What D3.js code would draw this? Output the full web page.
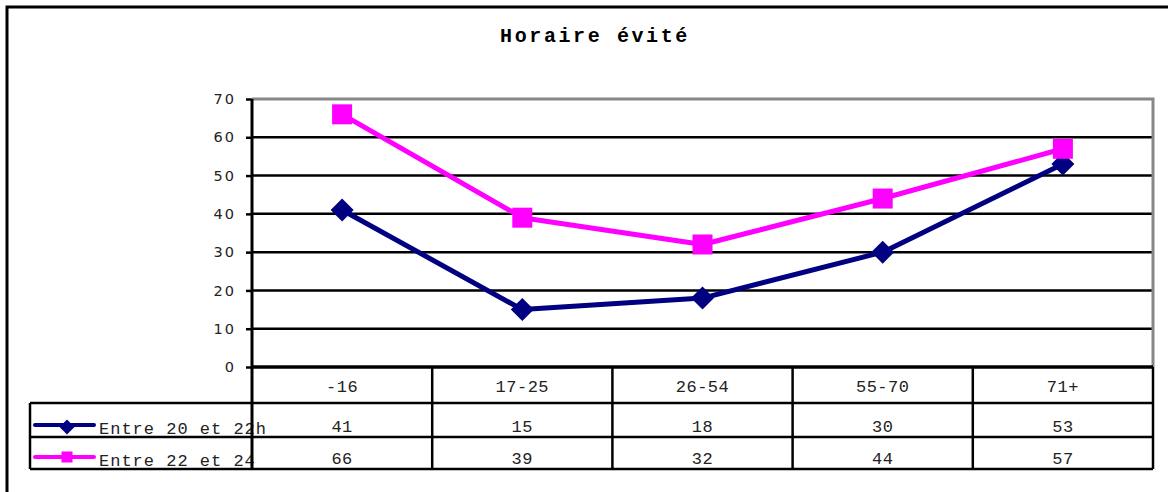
<!DOCTYPE html>
<html>
<head>
<meta charset="utf-8">
<script src="https://cdn.jsdelivr.net/npm/d3@7"></script>
<style>
  body { margin: 0; background: #fff; }
  svg { display: block; }
</style>
</head>
<body>
<div id="chart"></div>
<script>
const categories = ["-16", "17-25", "26-54", "55-70", "71+"];
const seriesNames = ["Entre 20 et 22h", "Entre 22 et 24"];
const seriesColors = ["#000080", "#ff00ff"];
const evening = [41, 15, 18, 30, 53];
const night = [66, 39, 32, 44, 57];
const yTicks = [0, 10, 20, 30, 40, 50, 60, 70];

const series = [
  { name: seriesNames[0], color: seriesColors[0], values: evening, marker: "diamond" },
  { name: seriesNames[1], color: seriesColors[1], values: night, marker: "square" }
];

const W = 1168, H = 492;
const plot = { left: 252, right: 1153, top: 99, bottom: 367 };
const rowH = [36, 34, 32]; // header, row 1, row 2
const legendLeft = 30;
const monoFont = "'Liberation Mono', 'Courier New', monospace";

const svg = d3.select("#chart").append("svg")
  .attr("width", W).attr("height", H);

// outer frame
svg.append("path")
  .attr("d", `M7,${H + 5} L7,7 L${W + 5},7`)
  .attr("fill", "none").attr("stroke", "#000").attr("stroke-width", 3);

svg.append("text")
  .attr("x", 595).attr("y", 42)
  .attr("text-anchor", "middle")
  .style("font-family", monoFont)
  .style("font-weight", "bold")
  .style("font-size", "20px")
  .style("letter-spacing", "2.6px")
  .text("Horaire évité");

const x = d3.scaleBand().domain(categories).range([plot.left, plot.right]).padding(0);
const y = d3.scaleLinear().domain([0, 70]).range([plot.bottom, plot.top]);
const cx = c => x(c) + x.bandwidth() / 2;

// gridlines
svg.append("g")
  .selectAll("line")
  .data(yTicks.filter(t => t > 0 && t < 70))
  .join("line")
  .attr("x1", plot.left).attr("x2", plot.right)
  .attr("y1", d => y(d)).attr("y2", d => y(d))
  .attr("stroke", "#000").attr("stroke-width", 2.5);

// gray plot border top/right
svg.append("path")
  .attr("d", `M${plot.left},${y(70)} L${plot.right},${y(70)} L${plot.right},${plot.bottom}`)
  .attr("fill", "none").attr("stroke", "#888").attr("stroke-width", 3);

// y axis
const yAxis = svg.append("g")
  .attr("transform", `translate(${plot.left},0)`)
  .call(d3.axisLeft(y).tickValues(yTicks).tickSize(6).tickPadding(10));
yAxis.select(".domain").remove();
yAxis.selectAll("line").attr("stroke", "#000").attr("stroke-width", 2.5);
yAxis.selectAll("text")
  .style("font-family", "'DejaVu Sans', sans-serif")
  .style("font-size", "14.5px")
  .style("letter-spacing", "2px")
  .attr("fill", "#222");

// data table
const tableTop = plot.bottom;
const rowY = [tableTop, tableTop + rowH[0], tableTop + rowH[0] + rowH[1], tableTop + rowH[0] + rowH[1] + rowH[2]];
const tableBottom = rowY[3];
const grid = svg.append("g").attr("stroke", "#000").attr("stroke-width", 2.5);

grid.append("line").attr("x1", plot.left).attr("x2", plot.right).attr("y1", rowY[0]).attr("y2", rowY[0]).attr("stroke-width", 3.5);
[rowY[1], rowY[2], rowY[3]].forEach(yy => {
  grid.append("line").attr("x1", legendLeft).attr("x2", plot.right).attr("y1", yy).attr("y2", yy);
});
grid.append("line").attr("x1", legendLeft).attr("x2", legendLeft).attr("y1", rowY[1]).attr("y2", tableBottom);
grid.selectAll(".vcol")
  .data(categories.slice(1))
  .join("line")
  .attr("x1", d => x(d)).attr("x2", d => x(d))
  .attr("y1", rowY[0]).attr("y2", tableBottom);
grid.append("line").attr("x1", plot.right).attr("x2", plot.right).attr("y1", rowY[0]).attr("y2", tableBottom);

svg.append("g")
  .selectAll("text")
  .data(categories)
  .join("text")
  .attr("x", d => cx(d)).attr("y", rowY[0] + 25)
  .attr("text-anchor", "middle")
  .style("font-family", monoFont).style("font-size", "17px")
  .style("letter-spacing", "0.5px")
  .attr("fill", "#222")
  .text(d => d);

series.forEach((s, i) => {
  const top = rowY[i + 1];
  svg.append("g")
    .selectAll("text")
    .data(s.values)
    .join("text")
    .attr("x", (d, j) => cx(categories[j])).attr("y", top + 29 - i * 2)
    .attr("text-anchor", "middle")
    .style("font-family", monoFont).style("font-size", "17px")
    .style("letter-spacing", "0.5px")
    .attr("fill", "#222")
    .text(d => d);

  // legend key
  const keyY = top + (i === 0 ? 22 : 20);
  svg.append("line")
    .attr("x1", 35).attr("x2", 94).attr("y1", keyY).attr("y2", keyY)
    .attr("stroke", s.color).attr("stroke-width", 4).attr("stroke-linecap", "round");
  drawMarker(svg, s.marker, 67, keyY + (i === 0 ? 2 : 0), i === 0 ? 15 : 11, s.color);
  svg.append("text")
    .attr("x", 99).attr("y", top + 31 - i * 2)
    .style("font-family", monoFont).style("font-size", "17px")
    .style("letter-spacing", "1px")
    .attr("fill", "#222")
    .text(s.name);
});

// y axis line (over table)
svg.append("line")
  .attr("x1", plot.left).attr("x2", plot.left)
  .attr("y1", y(70)).attr("y2", tableBottom)
  .attr("stroke", "#000").attr("stroke-width", 3);

// series lines and markers
const line = d3.line().x((d, j) => cx(categories[j])).y(d => y(d));
series.forEach(s => {
  svg.append("path")
    .datum(s.values)
    .attr("d", line)
    .attr("fill", "none")
    .attr("stroke", s.color)
    .attr("stroke-width", 5)
    .attr("stroke-linejoin", "round");
});
series.forEach(s => {
  s.values.forEach((v, j) => drawMarker(svg, s.marker, cx(categories[j]), y(v), s.marker === "square" ? 20 : 23, s.color));
});

function drawMarker(g, type, px, py, size, color) {
  const h = size / 2;
  if (type === "square") {
    g.append("rect")
      .attr("x", px - h).attr("y", py - h)
      .attr("width", size).attr("height", size)
      .attr("fill", color);
  } else {
    g.append("path")
      .attr("d", `M${px},${py - h} L${px + h},${py} L${px},${py + h} L${px - h},${py} Z`)
      .attr("fill", color);
  }
}
</script>
</body>
</html>
